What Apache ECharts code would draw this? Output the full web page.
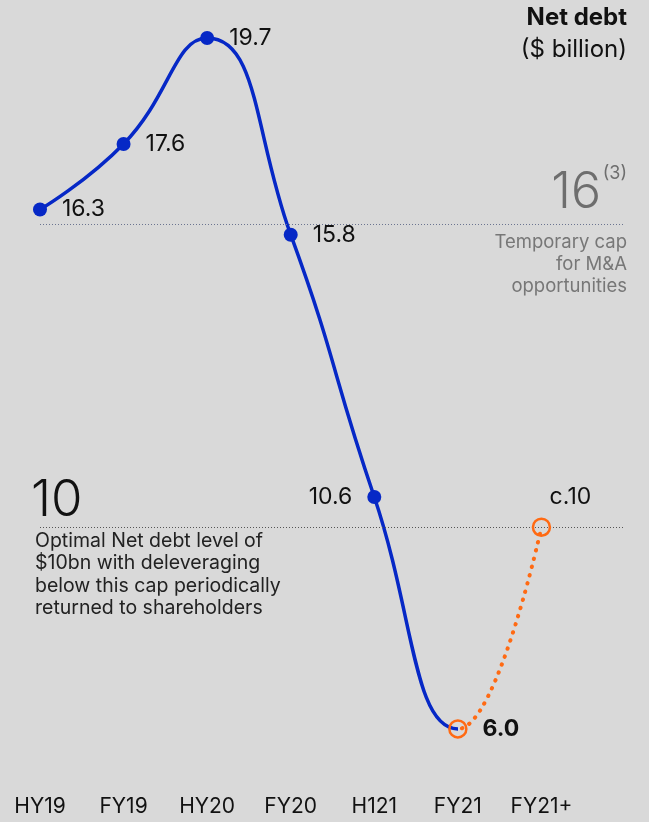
<!DOCTYPE html>
<html>
<head>
<meta charset="utf-8">
<script src="https://cdn.jsdelivr.net/npm/echarts@6/dist/echarts.min.js"></script>
<style>
  html, body { margin: 0; padding: 0; background: #d9d9d9; }
  #chart { width: 649px; height: 822px; }
</style>
</head>
<body>
<div id="chart"></div>
<script>
// Periods on the x axis (the trailing blank slot extends the plot to the right edge)
const categories = ['HY19', 'FY19', 'HY20', 'FY20', 'H121', 'FY21', 'FY21+', ''];
// Net debt, $ billion
const netDebt = [16.3, 17.6, 19.7, 15.8, 10.6, 6.0, 10, '-'];
// Text shown beside each point
const pointLabels = ['16.3', '17.6', '19.7', '15.8', '10.6', '6.0', 'c.10', ''];
// Reference levels
const tempCap = 16;
const optimalLevel = 10;

const FONT = 'Inter';
const BLUE = '#0628c6';
const ORANGE = '#ff6a13';
const CLEAR = 'rgba(0,0,0,0)';
const lastActual = 5; // index of FY21, end of reported figures
const lastIndex = categories.length - 1;

const chart = echarts.init(document.getElementById('chart'), null, { renderer: 'canvas' });

const markerData = netDebt.map((v, i) => {
  if (v === '-') return '-';
  const projected = i >= lastActual;
  const item = {
    value: v,
    symbolSize: projected ? 17 : 14,
    itemStyle: projected
      ? { color: CLEAR, borderColor: ORANGE, borderWidth: 2.5, opacity: 1 }
      : { color: BLUE, opacity: 1 },
    label: {
      show: true,
      formatter: pointLabels[i],
      position: 'right',
      distance: 15,
      fontFamily: FONT,
      fontSize: 23,
      color: '#111'
    }
  };
  if (i === 4) item.label.position = 'left';
  if (i === 5) item.label.fontWeight = 'bold';
  if (i === 6) {
    item.label.position = 'top';
    item.label.distance = 9;
    item.label.offset = [29, 0];
  }
  return item;
});

const option = {
  backgroundColor: '#d9d9d9',
  animation: false,
  grid: { left: 40, right: 24, top: 22.9, bottom: 42.6 },
  xAxis: {
    type: 'category',
    data: categories,
    boundaryGap: false,
    axisLine: { show: false },
    axisTick: { show: false },
    splitLine: { show: false },
    axisLabel: {
      margin: 17,
      fontFamily: FONT,
      fontSize: 21,
      color: '#111',
      interval: 0
    }
  },
  yAxis: {
    type: 'value',
    min: 5,
    max: 20,
    show: false
  },
  visualMap: [
    {
      show: false, seriesIndex: 0, dimension: 0,
      pieces: [
        { gte: 0, lte: lastActual, color: BLUE },
        { gt: lastActual, lte: lastIndex, color: CLEAR }
      ]
    },
    {
      show: false, seriesIndex: 1, dimension: 0,
      pieces: [
        { gte: 0, lte: lastActual, color: CLEAR },
        { gt: lastActual, lte: lastIndex, color: ORANGE }
      ]
    }
  ],
  series: [
    {
      // reported figures: solid blue curve
      type: 'line',
      data: netDebt,
      smooth: true,
      showSymbol: false,
      lineStyle: { width: 3.5 },
      z: 3,
      markLine: {
        silent: true,
        symbol: 'none',
        label: { show: false },
        data: [
          { yAxis: tempCap, lineStyle: { color: '#6b7490', type: [1, 2], width: 1 } },
          { yAxis: optimalLevel, lineStyle: { color: '#555', type: [1, 2], width: 1 } }
        ]
      }
    },
    {
      // outlook: dotted orange continuation
      type: 'line',
      data: netDebt,
      smooth: true,
      showSymbol: false,
      lineStyle: { width: 4, type: [0.5, 8], cap: 'round' },
      z: 3
    },
    {
      type: 'scatter',
      data: markerData,
      symbol: 'circle',
      itemStyle: { opacity: 1 },
      z: 5
    }
  ],
  graphic: [
    { type: 'text', x: 627, y: 6,
      style: { text: 'Net debt', font: 'bold 24px ' + FONT, fill: '#111', align: 'right', textAlign: 'right' } },
    { type: 'text', x: 627, y: 38,
      style: { text: '($ billion)', font: '24px ' + FONT, fill: '#111', align: 'right', textAlign: 'right' } },
    { type: 'text', x: 601, y: 168,
      style: { text: '16', font: '300 50px ' + FONT, fill: '#6e6e6e', align: 'right', textAlign: 'right' } },
    { type: 'text', x: 627, y: 165,
      style: { text: '(3)', font: '18px ' + FONT, fill: '#6e6e6e', align: 'right', textAlign: 'right' } },
    { type: 'text', x: 627, y: 231,
      style: { text: 'Temporary cap\nfor M&A\nopportunities', font: '18.5px ' + FONT,
               fill: '#777', align: 'right', textAlign: 'right', lineHeight: 22 } },
    { type: 'text', x: 31, y: 475,
      style: { text: '10', font: '300 51px ' + FONT, fill: '#111' } },
    { type: 'text', x: 35, y: 530,
      style: { text: 'Optimal Net debt level of\n$10bn with deleveraging\nbelow this cap periodically\nreturned to shareholders',
               font: '19.5px ' + FONT, fill: '#222', lineHeight: 22.4 } }
  ]
};

chart.setOption(option);
</script>
</body>
</html>
